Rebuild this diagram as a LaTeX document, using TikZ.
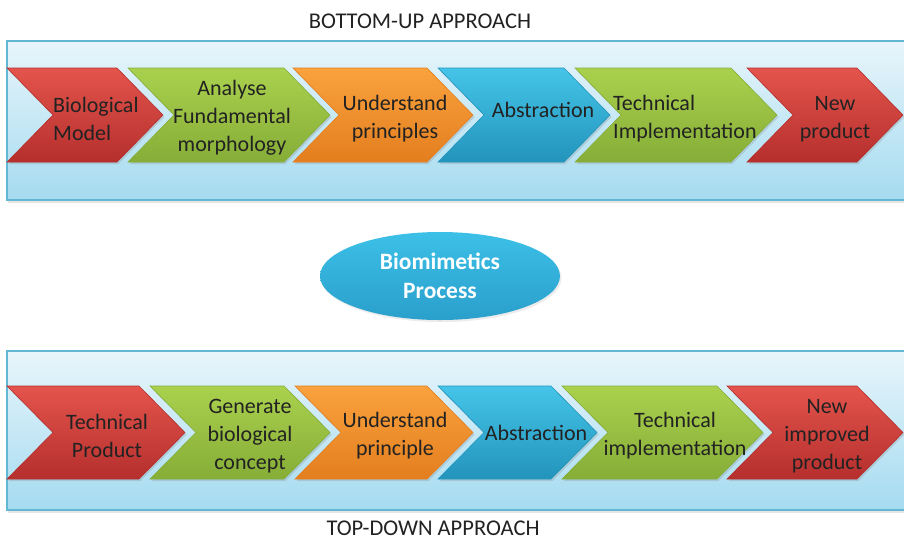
\documentclass[tikz,border=0pt]{standalone}
\usepackage{fontspec}
\setmainfont{Carlito}
\usetikzlibrary{shapes.geometric,shadows}
\definecolor{redT}{HTML}{E4544C}\definecolor{redB}{HTML}{B52F2D}
\definecolor{grnT}{HTML}{AAD14D}\definecolor{grnB}{HTML}{86AD37}
\definecolor{orgT}{HTML}{F9A23E}\definecolor{orgB}{HTML}{E47E1E}
\definecolor{bluT}{HTML}{45C4E8}\definecolor{bluB}{HTML}{2394BC}
\definecolor{elT}{HTML}{3CC0E8}\definecolor{elB}{HTML}{2A9FCB}
\definecolor{panT}{HTML}{E8F5FB}\definecolor{panB}{HTML}{A5DBF0}
\definecolor{panD}{HTML}{62B8D2}
\definecolor{txt}{HTML}{222222}
\newcommand{\chevron}[5]{%
  \path[chevbox, top color=#5T, bottom color=#5B, draw=#5B]
    (#1,#3) -- ({#2-46},#3) -- (#2,{(#3+#4)/2}) -- ({#2-46},#4) -- (#1,#4)
    -- ({#1+46},{(#3+#4)/2}) -- cycle;}
\tikzset{
  chevbox/.style={line width=0.6pt, drop shadow={opacity=0.25, shadow xshift=1.5pt, shadow yshift=-2pt}},
  panel/.style={top color=panT, bottom color=panB, draw=panD, line width=1.4pt,
    drop shadow={opacity=0.2, shadow xshift=1pt, shadow yshift=-2.5pt}},
  lbl/.style={font=\fontsize{22}{28}\selectfont, text=txt, inner sep=0pt, align=center},
  head/.style={font=\fontsize{22.5}{26}\selectfont, text=txt, inner sep=0pt},
  proc/.style={ellipse, minimum width=240pt, minimum height=88pt, inner sep=0pt,
    top color=elT, bottom color=elB, draw=none, text=white, align=center,
    font=\fontsize{23.5}{29}\selectfont\bfseries,
    drop shadow={opacity=0.15, shadow xshift=1.5pt, shadow yshift=-2pt}}
}
\begin{document}
\begin{tikzpicture}[x=1pt,y=-1pt]
\useasboundingbox (0,0) rectangle (904,539);
\fill[white] (0,0) rectangle (904,539);
% panels
\path[panel] (7,41) rectangle (907,200);
\path[panel] (7,351) rectangle (907,510);
% top row
\chevron{7}{163}{68}{162}{red}
\chevron{128}{330}{68}{162}{grn}
\chevron{293}{473}{68}{162}{org}
\chevron{438}{610}{68}{162}{blu}
\chevron{575}{777}{68}{162}{grn}
\chevron{747}{903}{68}{162}{red}
% bottom row
\chevron{7}{185}{386}{479}{red}
\chevron{150}{330}{386}{479}{grn}
\chevron{295}{473}{386}{479}{org}
\chevron{438}{597}{386}{479}{blu}
\chevron{562}{763}{386}{479}{grn}
\chevron{727}{903}{386}{479}{red}
% top labels
\node[lbl, align=left, anchor=west] (t1) at (53,119) {Biological\\Model};
\node[lbl] (t2) at (232,118) {Analyse\\Fundamental\\morphology};
\node[lbl] (t3) at (395,119) {Understand\\principles};
\node[lbl, anchor=base] (t4) at (543,117) {Abstraction};
\node[lbl, align=left, anchor=west] (t5) at (613,119) {Technical\\Implementation};
\node[lbl] (t6) at (835,119) {New\\product};
% bottom labels
\node[lbl] (b1) at (107,436) {Technical\\Product};
\node[lbl] (b2) at (250,436) {Generate\\biological\\concept};
\node[lbl] (b3) at (395,436) {Understand\\principle};
\node[lbl, anchor=base] (b4) at (536,440) {Abstraction};
\node[lbl] (b5) at (675,436) {Technical\\implementation};
\node[lbl] (b6) at (827,436) {New\\improved\\product};
% headings
\node[head, anchor=base] (hu) at (420,28) {BOTTOM-UP APPROACH};
\node[head, anchor=base] (hd) at (433,535) {TOP-DOWN APPROACH};
% centre
\node[proc] (bio) at (440,276) {Biomimetics\\Process};
\end{tikzpicture}
\end{document}
